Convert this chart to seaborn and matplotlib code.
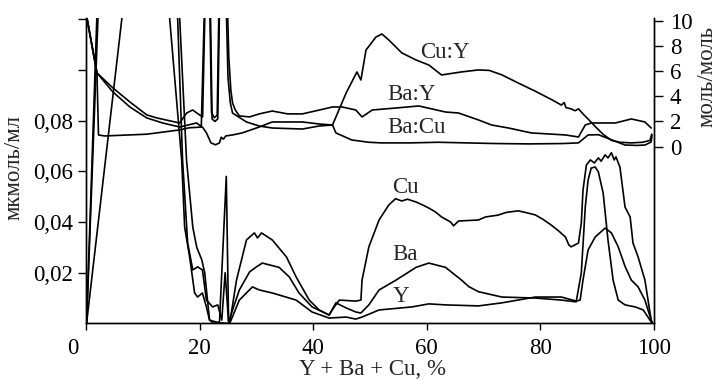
import matplotlib
matplotlib.use("Agg")
import matplotlib.pyplot as plt
import matplotlib.transforms as mtransforms
import seaborn as sns

# --- concentrations, мкмоль/мл (left axis) ---
x_cu = [0.1, 6.3, 6.5, 16.2, 16.5, 17.7, 18.8, 19.5, 20.4, 20.9, 21.4, 21.75, 22.5, 23.5,
        24.7, 25.1, 25.3, 26.5, 28.25, 29.65, 30.2, 30.9, 32.8, 35.3, 37.0, 39.3, 41.05, 42.8,
        43.7, 44.6, 47.5, 48.4, 48.6, 49.8, 51.6, 53.3, 54.5, 55.6, 56.6, 58.1, 59.2, 60.35,
        61.5, 62.6, 64.2, 64.7, 65.6, 69.1, 70.35, 72.5, 74.0, 76.1, 77.5, 79.1, 80.5, 81.9,
        83.2, 84.4, 85.0, 85.4, 86.7, 87.2, 87.5, 88.1, 88.8, 89.5, 90.2, 90.7, 91.4, 91.9,
        92.5, 93.0, 93.3, 94.0, 94.9, 95.8, 96.3, 97.2, 98.4, 99.5, 99.7]
y_cu = [0.0, 0.12, 0.13, 0.13, 0.12, 0.0645, 0.038, 0.030, 0.025, 0.020, 0.009, 0.0013, 0.0, 0.0005,
        0.058, 0.001, 0.0, 0.0171, 0.0329, 0.0357, 0.0337, 0.0357, 0.0329, 0.0262, 0.0183, 0.0092, 0.0053, 0.0033,
        0.0065, 0.0092, 0.0088, 0.0092, 0.0171, 0.0302, 0.0408, 0.0467, 0.0492, 0.0483, 0.0490, 0.0479, 0.0468, 0.0455,
        0.0440, 0.0420, 0.0400, 0.0385, 0.0404, 0.0408, 0.0420, 0.0427, 0.0438, 0.0444, 0.0437, 0.0428, 0.0410, 0.0388,
        0.0365, 0.0341, 0.0310, 0.0302, 0.0317, 0.0396, 0.0526, 0.0625, 0.0645, 0.0633, 0.0653, 0.0640, 0.0665, 0.0653,
        0.0673, 0.0645, 0.0657, 0.0617, 0.0459, 0.0420, 0.0317, 0.0262, 0.0171, 0.0013, 0.0]

x_ba = [0.1, 2.1, 2.3, 15.9, 16.14, 17.0, 17.9, 18.8, 19.65, 20.5, 21.2, 22.3, 23.2, 23.9, 24.5, 25.1,
        27.0, 28.8, 30.0, 31.05, 34.0, 35.8, 37.5, 39.8, 42.8, 44.0, 45.8, 47.5, 48.4, 49.8, 51.6,
        54.6, 58.1, 60.35, 63.3, 66.1, 67.4, 69.1, 73.2, 79.1, 83.7, 86.3, 87.2, 87.9, 88.4, 88.95,
        89.65, 90.2, 91.05, 91.9, 92.8, 93.7, 94.9, 96.7, 98.1, 99.5, 99.7]
y_ba = [0.0, 0.12, 0.13, 0.13, 0.12, 0.0645, 0.0317, 0.0211, 0.0223, 0.0211, 0.0092, 0.0065, 0.0073, 0.0013, 0.020, 0.0006,
        0.0132, 0.0203, 0.0223, 0.0238, 0.0221, 0.0183, 0.0120, 0.0065, 0.0033, 0.0081, 0.0061, 0.0045, 0.0041, 0.0073, 0.0132,
        0.0171, 0.0221, 0.0238, 0.0221, 0.0171, 0.0145, 0.0125, 0.0104, 0.0100, 0.0092, 0.0085, 0.0199, 0.0459, 0.0566, 0.0613,
        0.0617, 0.0598, 0.0514, 0.0329, 0.0171, 0.0092, 0.0073, 0.0065, 0.0053, 0.0006, 0.0]

x_y = [0.1, 1.9, 2.1, 14.5, 14.74, 16.84, 17.37, 18.25, 19.12, 19.65, 20.5, 21.2, 21.75, 23.5, 25.3,
       27.0, 29.3, 30.5, 32.8, 37.0, 39.8, 42.8, 45.8, 47.5, 48.6, 51.6, 57.4, 60.35, 63.3, 69.1,
       73.2, 79.1, 83.7, 86.3, 87.0, 87.5, 88.4, 89.65, 91.4, 92.5, 93.7, 94.9, 96.0, 97.2, 98.4, 99.5, 99.7]
y_y = [0.0, 0.12, 0.13, 0.13, 0.12, 0.0645, 0.038, 0.0262, 0.012, 0.0104, 0.012, 0.0065, 0.0013, 0.0002, 0.0,
       0.0092, 0.0144, 0.0132, 0.012, 0.0092, 0.0045, 0.0021, 0.0025, 0.0017, 0.0025, 0.0053, 0.0065, 0.0077, 0.0073, 0.0069,
       0.0081, 0.0104, 0.0104, 0.0088, 0.0092, 0.0171, 0.029, 0.0341, 0.0376, 0.0357, 0.0302, 0.0225, 0.0171, 0.0144, 0.0092, 0.0013, 0.0]

# --- molar ratios, моль/моль (right axis) ---
x_cuy = [0.05, 1.93, 4.74, 7.72, 10.7, 13.5, 16.49, 19.47, 20.3, 20.85, 21.9, 22.2, 22.7, 23.2, 23.5, 24.7,
         25.0, 25.4, 25.8, 28.25, 30.5, 32.8, 38.1, 41.05, 43.4, 45.8, 47.7, 48.4, 49.3, 51.05, 52.1,
         53.3, 55.6, 58.1, 60.35, 62.6, 66.1, 69.1, 71.0, 73.2, 76.1, 79.1, 81.9, 83.7, 84.2, 84.5,
         85.4, 86.1, 86.7, 87.5, 88.6, 89.65, 91.0, 92.5, 94.0, 96.0, 98.0, 99.3, 99.6]
r_cuy = [10.5, 5.85, 4.34, 3.15, 2.28, 1.88, 1.56, 1.88, 1.6, 11, 11, 2.2, 2.0, 2.2, 11, 11,
         5.5, 3.5, 2.67, 1.96, 1.64, 1.48, 1.40, 1.64, 1.72, 4.26, 5.93, 5.29, 7.67, 8.7, 8.94,
         8.47, 7.44, 6.88, 6.48, 5.69, 5.93, 6.09, 6.05, 5.7, 5.05, 4.4, 3.75, 3.3, 3.5, 3.1,
         3.0, 2.85, 3.0, 2.6, 2.1, 1.6, 1.0, 0.5, 0.35, 0.3, 0.35, 0.5, 1.0]

x_bay = [0.05, 1.93, 4.74, 7.72, 10.7, 12.46, 16.49, 17.72, 18.77, 20.0, 20.53, 20.95, 21.8, 22.1, 22.6,
         23.1, 23.4, 24.9, 25.15, 25.5, 25.8, 26.3, 27.0, 28.8, 30.5, 32.8, 35.5, 38.1, 41.1, 43.4,
         45.1, 47.5, 48.6, 50.4, 54.6, 58.6, 63.3, 65.6, 69.1, 71.4, 74.4, 78.4, 84.4, 86.7, 87.9,
         88.95, 93.2, 96.0, 98.4, 99.5]
r_bay = [10.5, 5.85, 4.66, 3.55, 2.52, 2.28, 1.88, 2.67, 2.91, 2.52, 2.36, 11, 11, 2.7, 2.3,
         2.5, 11, 11, 7.0, 4.5, 3.47, 2.9, 2.44, 2.36, 2.6, 2.83, 2.6, 2.6, 2.91, 3.15,
         3.15, 2.91, 2.36, 2.91, 3.07, 3.23, 2.75, 2.67, 2.12, 1.72, 1.48, 1.09, 0.93, 0.77, 1.72,
         1.88, 1.88, 2.2, 1.96, 1.48]

x_bacu = [0.05, 1.93, 2.2, 3.3, 10.7, 16.5, 18.2, 20.5, 21.2, 22.0, 22.8, 23.5, 23.8, 24.2, 24.6,
          25.8, 27.5, 30.5, 32.8, 38.1, 41.05, 43.4, 44.0, 46.8, 49.8, 52.0, 57.0, 62.0, 67.0,
          72.0, 78.0, 84.0, 86.7, 88.4, 90.2, 92.5, 94.9, 97.0, 98.4, 99.5, 99.65]
r_bacu = [10.5, 5.85, 0.93, 0.85, 0.99, 1.33, 1.5, 1.56, 1.1, 0.3, 0.15, 0.3, 0.75, 0.6, 0.85,
          0.93, 1.09, 1.56, 1.96, 1.96, 1.8, 1.72, 1.09, 0.53, 0.35, 0.3, 0.3, 0.35, 0.3,
          0.25, 0.22, 0.25, 0.3, 0.93, 0.95, 0.55, 0.13, 0.1, 0.13, 0.37, 0.9]

x_ticks = [0, 20, 40, 60, 80, 100]
left_ticks = [0.02, 0.04, 0.06, 0.08, 0.10, 0.12]
left_labels = ['0,02', '0,04', '0,06', '0,08', '', '']
right_ticks = [0, 2, 4, 6, 8, 10]

sns.set_style("ticks")
plt.rcParams['font.family'] = ['Liberation Serif', 'DejaVu Serif']
plt.rcParams['font.size'] = 16.5
plt.rcParams['axes.edgecolor'] = 'black'
plt.rcParams['xtick.color'] = 'black'
plt.rcParams['ytick.color'] = 'black'

fig = plt.figure(figsize=(7.19, 3.81), dpi=100)
ax = fig.add_axes([0.1196, 0.1512, 0.79, 0.8016])
ax2 = ax.twinx()

for xs, ys in [(x_cu, y_cu), (x_ba, y_ba), (x_y, y_y)]:
    sns.lineplot(x=xs, y=ys, ax=ax, color='black', linewidth=1.2, estimator=None, sort=False)
for xs, ys in [(x_cuy, r_cuy), (x_bay, r_bay), (x_bacu, r_bacu)]:
    sns.lineplot(x=xs, y=ys, ax=ax2, color='black', linewidth=1.2, estimator=None, sort=False)

ax.set_xlim(0, 100)
ax.set_ylim(0, 0.1205)
ax2.set_ylim(-14.02, 10.21)

ax.set_xticks(x_ticks)
ax.set_xticklabels([str(t) for t in x_ticks])
ax.set_yticks(left_ticks)
ax.set_yticklabels(left_labels)
ax2.set_yticks(right_ticks)
ax2.set_yticklabels([str(t) for t in right_ticks])

for a in (ax, ax2):
    a.spines['top'].set_visible(False)
    for s in a.spines.values():
        s.set_linewidth(1.0)
ax.tick_params(axis='x', direction='out', length=5, width=1, pad=5.5)
ax.tick_params(axis='y', direction='out', length=5.5, width=1, pad=4)
ax2.tick_params(axis='y', direction='out', length=6.5, width=1, pad=5)

# the "0" at the origin sits left of the axis corner
lbl0 = ax.get_xticklabels()[0]
lbl0.set_transform(lbl0.get_transform() + mtransforms.ScaledTranslation(-0.13, 0, fig.dpi_scale_trans))

ax.set_xlabel('Y + Ba + Cu, %')
ax.xaxis.set_label_coords(0.505, -0.117)
ax.set_ylabel('мкмоль/мл')
ax.yaxis.set_label_coords(-0.109, 0.509)
ax2.set_ylabel('моль/моль', rotation=90)
ax2.yaxis.set_label_coords(1.074, 0.807)

# curve names
ax.text(58.8, 0.1048, 'Cu:Y', ha='left', va='baseline')
ax.text(53.0, 0.0882, 'Ba:Y', ha='left', va='baseline')
ax.text(53.0, 0.0752, 'Ba:Cu', ha='left', va='baseline')
ax.text(53.9, 0.0515, 'Cu', ha='left', va='baseline')
ax.text(53.9, 0.0250, 'Ba', ha='left', va='baseline')
ax.text(54.0, 0.0085, 'Y', ha='left', va='baseline')

fig.savefig('out.png', dpi=100)
